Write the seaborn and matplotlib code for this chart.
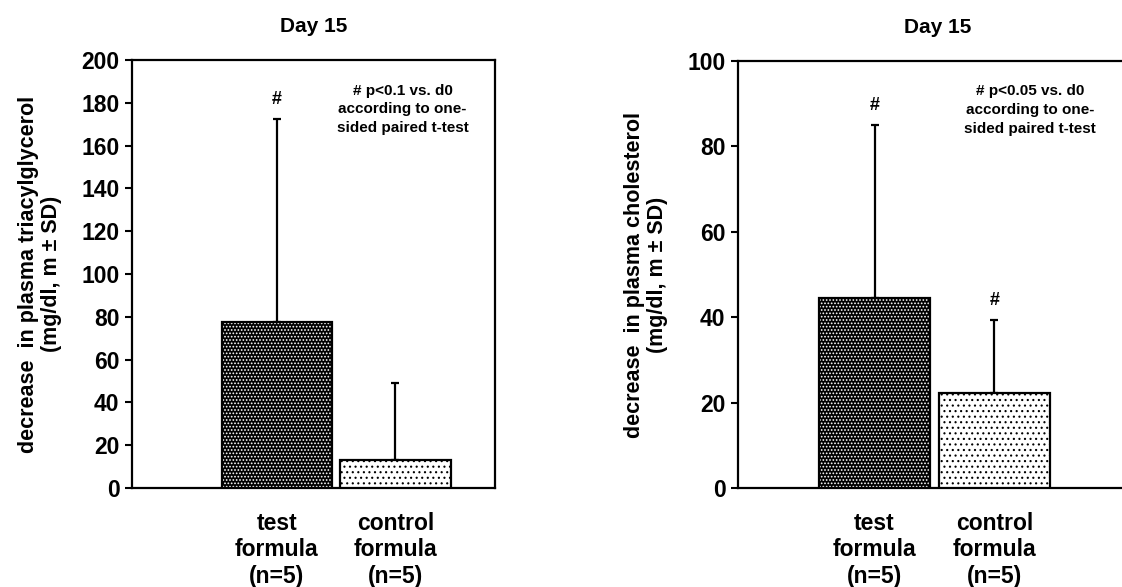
import seaborn as sns
import matplotlib.pyplot as plt
import matplotlib.colors as mcolors

# values
groups = ['test\nformula\n(n=5)', 'control\nformula\n(n=5)']
tg_mean = [77.5, 13.0]
tg_sd = [95.0, 36.0]
chol_mean = [44.6, 22.2]
chol_sd = [40.4, 17.2]
tg_ticks = [0, 20, 40, 60, 80, 100, 120, 140, 160, 180, 200]
chol_ticks = [0, 20, 40, 60, 80, 100]
tg_marks = [True, False]
chol_marks = [True, True]

sns.set_theme(style='white')
plt.rcParams['font.family'] = ['Liberation Sans', 'DejaVu Sans']
plt.rcParams['font.weight'] = 'bold'
plt.rcParams['text.color'] = 'black'
plt.rcParams['axes.labelcolor'] = 'black'
plt.rcParams['xtick.color'] = 'black'
plt.rcParams['ytick.color'] = 'black'
plt.rcParams['hatch.linewidth'] = 0.8

fig = plt.figure(figsize=(11.22, 5.87), dpi=100)
ax1 = fig.add_axes([132 / 1122, 1 - 488 / 587, 363 / 1122, 428 / 587])
ax2 = fig.add_axes([738 / 1122, 1 - 488 / 587, 400 / 1122, 427 / 587])


def draw_panel(ax, means, sds, ticks, marks, ylabel, note, xlim, note_x, lpad):
    sns.barplot(x=groups, y=means, ax=ax, width=0.93, hue=groups,
                palette=['black', 'white'], legend=False,
                edgecolor='black', linewidth=1.6, zorder=3)
    hatches = ['.....', '...']
    hcolors = ['white', 'black']
    for p, h, c in zip(ax.patches, hatches, hcolors):
        p.set_hatch(h)
        try:
            p.set_hatchcolor(c)
        except AttributeError:
            p._hatch_color = mcolors.to_rgba(c)
    xs = list(range(len(groups)))
    ax.errorbar(xs, means, yerr=[[0] * len(sds), sds], fmt='none',
                ecolor='black', elinewidth=1.6, capsize=3, capthick=1.6, zorder=2)
    for x, m, s, flag in zip(xs, means, sds, marks):
        if flag:
            ax.annotate('#', (x, m + s), xytext=(0, 8), textcoords='offset points',
                        ha='center', va='bottom', fontsize=13, fontweight='bold')
    ax.text(note_x, ticks[-1] * 0.945, note, ha='center', va='top', fontsize=11,
            fontweight='bold', linespacing=1.45)
    ax.set_ylim(0, ticks[-1])
    ax.set_xlim(*xlim)
    ax.set_yticks(ticks)
    ax.tick_params(axis='y', direction='out', length=5, width=1.5, left=True,
                   labelsize=16.5, pad=4)
    ax.tick_params(axis='x', length=0, labelsize=16.5, pad=17)
    for lab in ax.get_xticklabels() + ax.get_yticklabels():
        lab.set_fontweight('bold')
    for s in ax.spines.values():
        s.set_linewidth(1.6)
        s.set_color('black')
    ax.set_ylabel(ylabel, fontsize=15.5, fontweight='bold', labelpad=lpad,
                  linespacing=1.1)
    ax.set_title('Day 15', fontsize=15, fontweight='bold', pad=20)


draw_panel(ax1, tg_mean, tg_sd, tg_ticks, tg_marks,
           'decrease  in plasma triacylglycerol\n(mg/dl, m \u00b1 SD)',
           '# p<0.1 vs. d0\naccording to one-\nsided paired t-test',
           (-1.22, 1.84), 1.06, 14)
draw_panel(ax2, chol_mean, chol_sd, chol_ticks, chol_marks,
           'decrease  in plasma cholesterol\n(mg/dl, m \u00b1 SD)',
           '# p<0.05 vs. d0\naccording to one-\nsided paired t-test',
           (-1.14, 2.2), 1.30, 14)

fig.savefig('out.png', dpi=100)
